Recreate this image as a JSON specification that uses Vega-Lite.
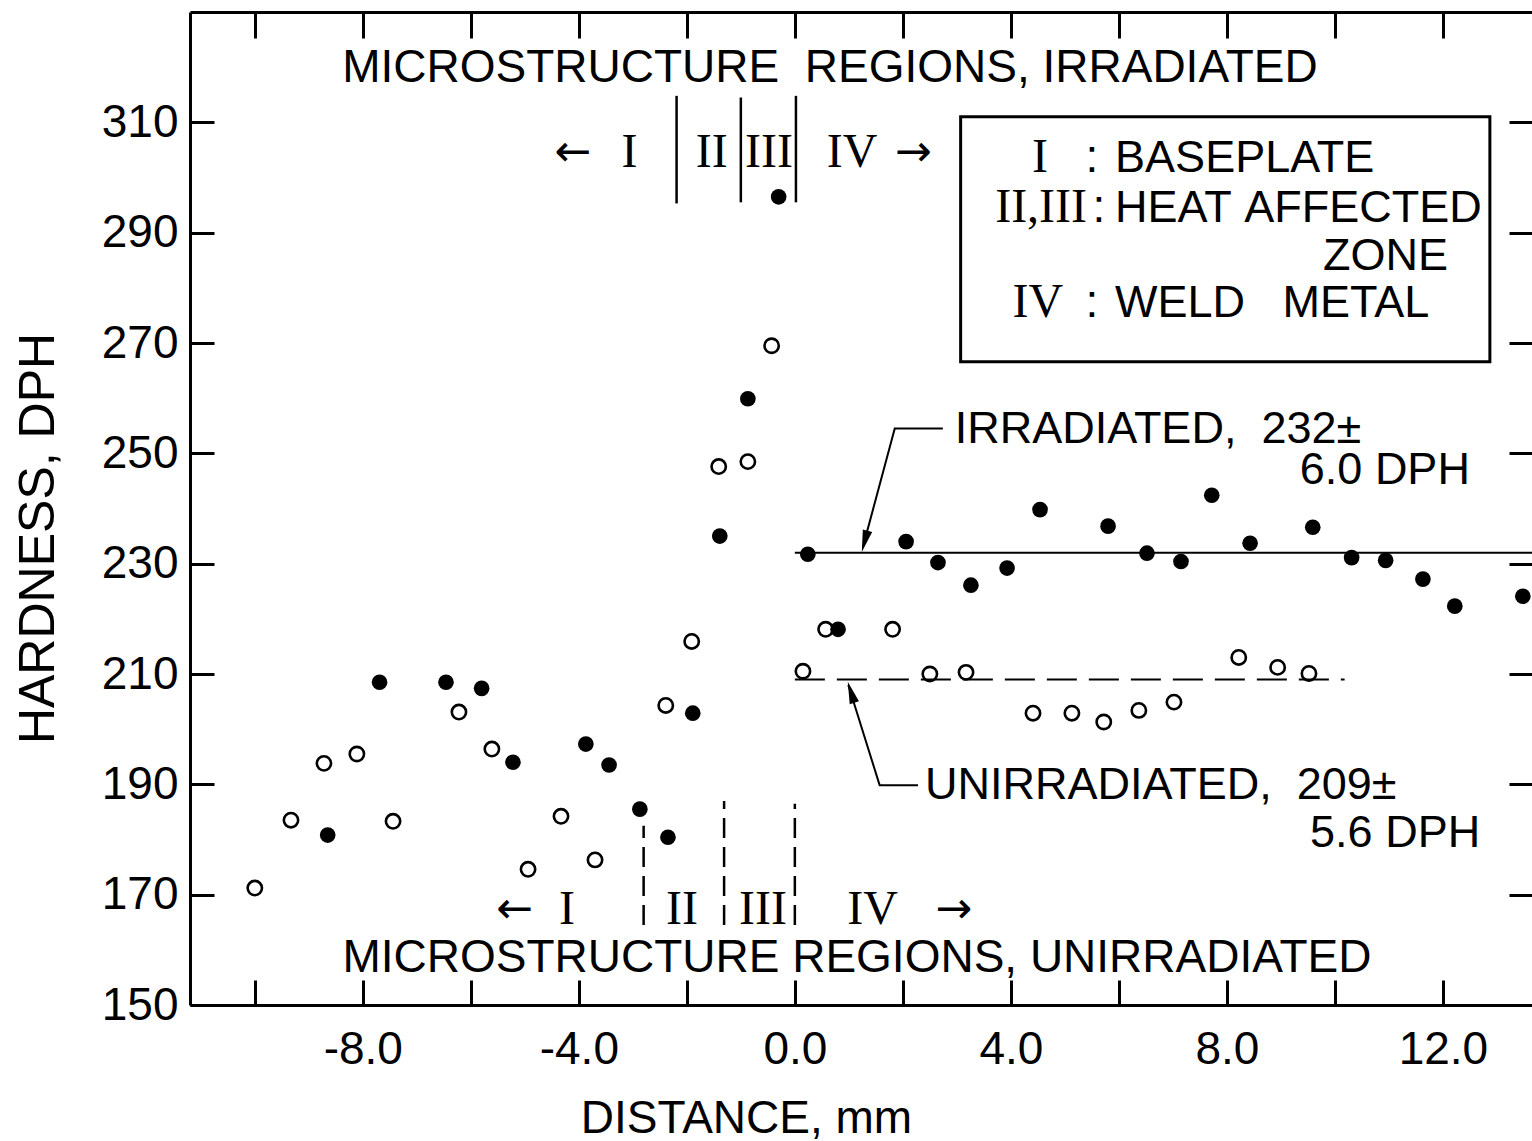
{
  "$schema": "https://vega.github.io/schema/vega-lite/v6.json",
  "width": 1342,
  "height": 993,
  "autosize": {"type": "none"},
  "padding": {"left": 190, "top": 12, "right": 0, "bottom": 136},
  "background": "white",
  "config": {
    "view": {"stroke": null},
    "axis": {"grid": false, "domainColor": "black", "tickColor": "black", "labelColor": "black", "titleColor": "black", "domainWidth": 3, "tickWidth": 3, "labelFont": "Liberation Sans", "titleFont": "Liberation Sans", "titleFontWeight": "normal"},
    "text": {"font": "Liberation Sans", "fontSize": 45, "color": "black"}
  },
  "datasets": {
    "irr": [
      {"x": -8.65, "y": 180.8}, {"x": -7.69, "y": 208.5}, {"x": -6.46, "y": 208.5}, {"x": -5.80, "y": 207.4},
      {"x": -5.22, "y": 194.0}, {"x": -3.87, "y": 197.3}, {"x": -3.44, "y": 193.5}, {"x": -2.87, "y": 185.5},
      {"x": -2.35, "y": 180.4}, {"x": -1.89, "y": 202.9}, {"x": -1.39, "y": 235.0}, {"x": -0.87, "y": 259.9},
      {"x": -0.30, "y": 296.5}, {"x": 0.24, "y": 231.7}, {"x": 0.80, "y": 218.1}, {"x": 2.06, "y": 234.0},
      {"x": 2.65, "y": 230.2}, {"x": 3.26, "y": 226.1}, {"x": 3.93, "y": 229.2}, {"x": 4.54, "y": 239.8},
      {"x": 5.80, "y": 236.8}, {"x": 6.52, "y": 231.9}, {"x": 7.15, "y": 230.4}, {"x": 7.72, "y": 242.4},
      {"x": 8.43, "y": 233.7}, {"x": 9.59, "y": 236.6}, {"x": 10.31, "y": 231.1}, {"x": 10.94, "y": 230.6},
      {"x": 11.63, "y": 227.2}, {"x": 12.22, "y": 222.3}, {"x": 13.48, "y": 224.1}
    ],
    "unirr": [
      {"x": -10.0, "y": 171.2}, {"x": -9.33, "y": 183.5}, {"x": -8.72, "y": 193.8}, {"x": -8.11, "y": 195.5},
      {"x": -7.44, "y": 183.3}, {"x": -6.22, "y": 203.1}, {"x": -5.61, "y": 196.4}, {"x": -4.94, "y": 174.6},
      {"x": -4.33, "y": 184.2}, {"x": -3.70, "y": 176.3}, {"x": -2.39, "y": 204.3}, {"x": -1.91, "y": 215.9},
      {"x": -1.41, "y": 247.6}, {"x": -0.87, "y": 248.5}, {"x": -0.43, "y": 269.5}, {"x": 0.15, "y": 210.5},
      {"x": 0.57, "y": 218.1}, {"x": 1.81, "y": 218.1}, {"x": 2.50, "y": 210.0}, {"x": 3.17, "y": 210.3},
      {"x": 4.41, "y": 202.9}, {"x": 5.13, "y": 202.9}, {"x": 5.72, "y": 201.3}, {"x": 6.37, "y": 203.4},
      {"x": 7.02, "y": 204.9}, {"x": 8.22, "y": 213.0}, {"x": 8.94, "y": 211.2}, {"x": 9.52, "y": 210.1}
    ],
    "meanIrr": [{"x0": 0, "x1": 13.65, "y": 232}],
    "meanUnirr": [{"x0": 0, "x1": 10.18, "y": 209}],
    "regionsIrr": [
      {"x": -2.19, "y0": 295.3, "y1": 314.8}, {"x": -1.0, "y0": 295.5, "y1": 314.5}, {"x": 0.02, "y0": 295.5, "y1": 314.8}
    ],
    "regionsUnirr": [
      {"x": -2.80, "y0": 164.5, "y1": 182.5}, {"x": -1.31, "y0": 164.5, "y1": 187.0}, {"x": 0.0, "y0": 164.5, "y1": 186.5}
    ],
    "legendBox": [{"x0": 3.07, "x1": 12.87, "y0": 266.6, "y1": 311.0}],
    "textCenter": [
      {"text": "MICROSTRUCTURE\u00a0\u00a0REGIONS,\u00a0IRRADIATED", "x": 0.65, "y": 319.8},
      {"text": "MICROSTRUCTURE\u00a0REGIONS,\u00a0UNIRRADIATED", "x": 1.15, "y": 158.5},
      {"text": ":", "x": 5.5, "y": 303.6},
      {"text": ":", "x": 5.63, "y": 294.5},
      {"text": ":", "x": 5.5, "y": 277.3}
    ],
    "textLeft": [
      {"text": "BASEPLATE", "x": 5.93, "y": 303.6},
      {"text": "HEAT\u00a0AFFECTED", "x": 5.93, "y": 294.5},
      {"text": "ZONE", "x": 9.78, "y": 285.8},
      {"text": "WELD\u00a0\u00a0\u00a0METAL", "x": 5.93, "y": 277.3},
      {"text": "IRRADIATED,\u00a0\u00a0232\u00b1", "x": 2.96, "y": 254.5},
      {"text": "UNIRRADIATED,\u00a0\u00a0209\u00b1", "x": 2.41, "y": 189.85}
    ],
    "textRight": [
      {"text": "6.0 DPH", "x": 12.5, "y": 246.9},
      {"text": "5.6 DPH", "x": 12.69, "y": 181.2}
    ],
    "romans": [
      {"text": "I", "x": -3.06, "y": 304.5},
      {"text": "II", "x": -1.54, "y": 304.5},
      {"text": "III", "x": -0.48, "y": 304.5},
      {"text": "IV", "x": 1.06, "y": 304.5},
      {"text": "I", "x": -4.22, "y": 167.2},
      {"text": "II", "x": -2.09, "y": 167.2},
      {"text": "III", "x": -0.59, "y": 167.2},
      {"text": "IV", "x": 1.44, "y": 167.2},
      {"text": "I", "x": 4.54, "y": 303.6},
      {"text": "II,III", "x": 4.56, "y": 294.5},
      {"text": "IV", "x": 4.5, "y": 277.3}
    ],
    "arrows": [
      {"text": "\u2190", "x": -4.11, "y": 304.5},
      {"text": "\u2192", "x": 2.19, "y": 304.5},
      {"text": "\u2190", "x": -5.19, "y": 167.2},
      {"text": "\u2192", "x": 2.94, "y": 167.2}
    ],
    "leaders": [
      {"grp": "irr", "ord": 1, "x": 2.74, "y": 254.5},
      {"grp": "irr", "ord": 2, "x": 1.85, "y": 254.5},
      {"grp": "irr", "ord": 3, "x": 1.26, "y": 233.0},
      {"grp": "unirr", "ord": 1, "x": 2.28, "y": 189.85},
      {"grp": "unirr", "ord": 2, "x": 1.57, "y": 189.85},
      {"grp": "unirr", "ord": 3, "x": 0.99, "y": 208.0}
    ],
    "headIrr": [{"x": 1.24, "y": 232.1}],
    "headUnirr": [{"x": 0.98, "y": 208.6}]
  },
  "resolve": {"axis": {"x": "independent", "y": "independent"}},
  "layer": [
    {
      "data": {"name": "irr"},
      "mark": {"type": "point", "shape": "circle", "filled": true, "color": "black", "size": 245, "opacity": 1},
      "encoding": {
        "x": {"field": "x", "type": "quantitative", "scale": {"domain": [-11.2, 13.65], "nice": false, "zero": false},
          "axis": {"orient": "bottom", "values": [-10, -8, -6, -4, -2, 0, 2, 4, 6, 8, 10, 12],
            "labelExpr": "datum.value % 4 == 0 ? (datum.value < 0 ? '-' : '') + format(abs(datum.value), '.1f') : ''",
            "tickSize": -25, "labelFontSize": 46, "labelPadding": 47, "labelFlush": false, "labelOverlap": false,
            "title": "DISTANCE, mm", "titleFontSize": 46, "titleX": 556, "titleY": 127, "titleBaseline": "alphabetic"}},
        "y": {"field": "y", "type": "quantitative", "scale": {"domain": [150, 330], "nice": false, "zero": false},
          "axis": {"orient": "left", "values": [150, 170, 190, 210, 230, 250, 270, 290, 310],
            "tickSize": -24, "labelFontSize": 46, "labelPadding": 36, "labelFlush": false, "labelOverlap": false,
            "title": "HARDNESS, DPH", "titleFontSize": 50, "titleAngle": 270, "titleX": -137, "titleY": 526, "titleBaseline": "alphabetic"}}
      }
    },
    {
      "data": {"name": "unirr"},
      "mark": {"type": "point", "shape": "circle", "filled": false, "color": "black", "strokeWidth": 2.6, "size": 205, "opacity": 1},
      "encoding": {
        "x": {"field": "x", "type": "quantitative", "scale": {"domain": [-11.2, 13.65], "nice": false, "zero": false}, "axis": null},
        "y": {"field": "y", "type": "quantitative", "scale": {"domain": [150, 330], "nice": false, "zero": false}, "axis": null}
      }
    },
    {
      "data": {"name": "meanIrr"},
      "mark": {"type": "rule", "color": "black", "strokeWidth": 2},
      "encoding": {
        "x": {"field": "x0", "type": "quantitative", "scale": {"domain": [-11.2, 13.65], "nice": false, "zero": false},
          "axis": {"orient": "top", "values": [-10, -8, -6, -4, -2, 0, 2, 4, 6, 8, 10, 12], "labels": false, "tickSize": -26, "title": null, "domain": true}},
        "x2": {"field": "x1"},
        "y": {"field": "y", "type": "quantitative", "scale": {"domain": [150, 330], "nice": false, "zero": false},
          "axis": {"orient": "right", "values": [170, 190, 210, 230, 250, 270, 290, 310], "labels": false, "tickSize": -23, "title": null, "domain": false}}
      }
    },
    {
      "data": {"name": "meanUnirr"},
      "mark": {"type": "rule", "color": "black", "strokeWidth": 2, "strokeDash": [30, 12]},
      "encoding": {
        "x": {"field": "x0", "type": "quantitative", "scale": {"domain": [-11.2, 13.65], "nice": false, "zero": false}, "axis": null},
        "x2": {"field": "x1"},
        "y": {"field": "y", "type": "quantitative", "scale": {"domain": [150, 330], "nice": false, "zero": false}, "axis": null}
      }
    },
    {
      "data": {"name": "regionsIrr"},
      "mark": {"type": "rule", "color": "black", "strokeWidth": 2.5},
      "encoding": {
        "x": {"field": "x", "type": "quantitative", "scale": {"domain": [-11.2, 13.65], "nice": false, "zero": false}, "axis": null},
        "y": {"field": "y0", "type": "quantitative", "scale": {"domain": [150, 330], "nice": false, "zero": false}, "axis": null},
        "y2": {"field": "y1"}
      }
    },
    {
      "data": {"name": "regionsUnirr"},
      "mark": {"type": "rule", "color": "black", "strokeWidth": 2.5, "strokeDash": [20, 9]},
      "encoding": {
        "x": {"field": "x", "type": "quantitative", "scale": {"domain": [-11.2, 13.65], "nice": false, "zero": false}, "axis": null},
        "y": {"field": "y0", "type": "quantitative", "scale": {"domain": [150, 330], "nice": false, "zero": false}, "axis": null},
        "y2": {"field": "y1"}
      }
    },
    {
      "data": {"name": "legendBox"},
      "mark": {"type": "rect", "filled": false, "stroke": "black", "strokeWidth": 3},
      "encoding": {
        "x": {"field": "x0", "type": "quantitative", "scale": {"domain": [-11.2, 13.65], "nice": false, "zero": false}, "axis": null},
        "x2": {"field": "x1"},
        "y": {"field": "y0", "type": "quantitative", "scale": {"domain": [150, 330], "nice": false, "zero": false}, "axis": null},
        "y2": {"field": "y1"}
      }
    },
    {
      "data": {"name": "textCenter"},
      "mark": {"type": "text", "align": "center", "baseline": "middle", "fontSize": 46},
      "encoding": {
        "x": {"field": "x", "type": "quantitative", "scale": {"domain": [-11.2, 13.65], "nice": false, "zero": false}, "axis": null},
        "y": {"field": "y", "type": "quantitative", "scale": {"domain": [150, 330], "nice": false, "zero": false}, "axis": null},
        "text": {"field": "text"}
      }
    },
    {
      "data": {"name": "textLeft"},
      "mark": {"type": "text", "align": "left", "baseline": "middle", "fontSize": 45},
      "encoding": {
        "x": {"field": "x", "type": "quantitative", "scale": {"domain": [-11.2, 13.65], "nice": false, "zero": false}, "axis": null},
        "y": {"field": "y", "type": "quantitative", "scale": {"domain": [150, 330], "nice": false, "zero": false}, "axis": null},
        "text": {"field": "text"}
      }
    },
    {
      "data": {"name": "textRight"},
      "mark": {"type": "text", "align": "right", "baseline": "middle", "fontSize": 45},
      "encoding": {
        "x": {"field": "x", "type": "quantitative", "scale": {"domain": [-11.2, 13.65], "nice": false, "zero": false}, "axis": null},
        "y": {"field": "y", "type": "quantitative", "scale": {"domain": [150, 330], "nice": false, "zero": false}, "axis": null},
        "text": {"field": "text"}
      }
    },
    {
      "data": {"name": "romans"},
      "mark": {"type": "text", "align": "center", "baseline": "middle", "fontSize": 48, "font": "Liberation Serif"},
      "encoding": {
        "x": {"field": "x", "type": "quantitative", "scale": {"domain": [-11.2, 13.65], "nice": false, "zero": false}, "axis": null},
        "y": {"field": "y", "type": "quantitative", "scale": {"domain": [150, 330], "nice": false, "zero": false}, "axis": null},
        "text": {"field": "text"}
      }
    },
    {
      "data": {"name": "arrows"},
      "mark": {"type": "text", "align": "center", "baseline": "middle", "fontSize": 44, "font": "DejaVu Sans"},
      "encoding": {
        "x": {"field": "x", "type": "quantitative", "scale": {"domain": [-11.2, 13.65], "nice": false, "zero": false}, "axis": null},
        "y": {"field": "y", "type": "quantitative", "scale": {"domain": [150, 330], "nice": false, "zero": false}, "axis": null},
        "text": {"field": "text"}
      }
    },
    {
      "data": {"name": "leaders"},
      "mark": {"type": "line", "color": "black", "strokeWidth": 2},
      "encoding": {
        "x": {"field": "x", "type": "quantitative", "scale": {"domain": [-11.2, 13.65], "nice": false, "zero": false}, "axis": null},
        "y": {"field": "y", "type": "quantitative", "scale": {"domain": [150, 330], "nice": false, "zero": false}, "axis": null},
        "detail": {"field": "grp"},
        "order": {"field": "ord"}
      }
    },
    {
      "data": {"name": "headIrr"},
      "mark": {"type": "point", "shape": "M0,0L-0.22,1L0.22,1Z", "filled": true, "color": "black", "size": 1936, "angle": 195, "opacity": 1},
      "encoding": {
        "x": {"field": "x", "type": "quantitative", "scale": {"domain": [-11.2, 13.65], "nice": false, "zero": false}, "axis": null},
        "y": {"field": "y", "type": "quantitative", "scale": {"domain": [150, 330], "nice": false, "zero": false}, "axis": null}
      }
    },
    {
      "data": {"name": "headUnirr"},
      "mark": {"type": "point", "shape": "M0,0L-0.22,1L0.22,1Z", "filled": true, "color": "black", "size": 1936, "angle": 342.6, "opacity": 1},
      "encoding": {
        "x": {"field": "x", "type": "quantitative", "scale": {"domain": [-11.2, 13.65], "nice": false, "zero": false}, "axis": null},
        "y": {"field": "y", "type": "quantitative", "scale": {"domain": [150, 330], "nice": false, "zero": false}, "axis": null}
      }
    }
  ]
}
